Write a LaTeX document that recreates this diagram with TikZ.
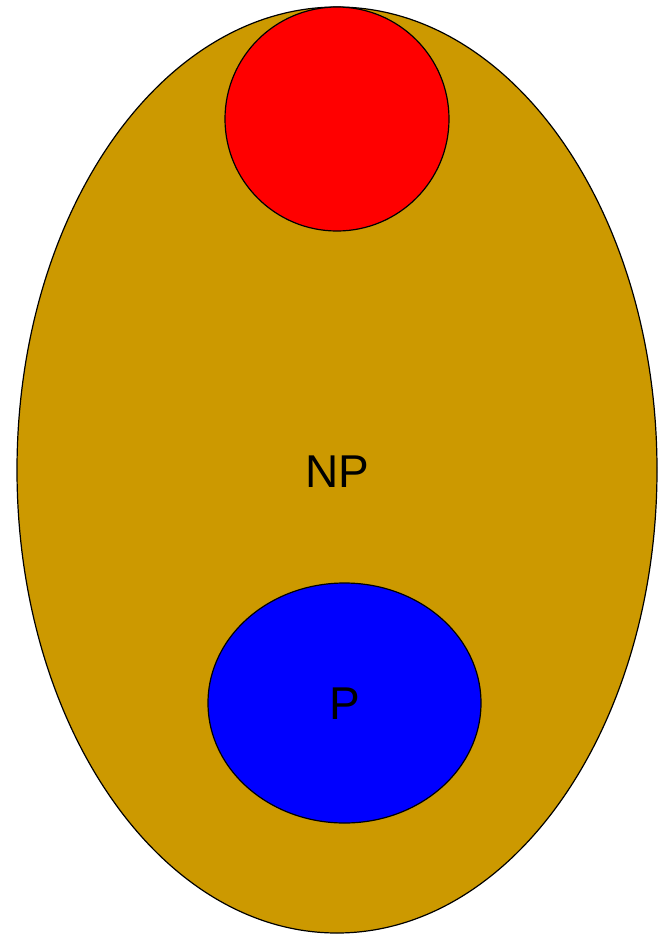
\documentclass[tikz,border=0pt]{standalone}
\usepackage{fontspec}
\setmainfont{Liberation Sans}
\definecolor{gold}{HTML}{CC9900}
\begin{document}
\begin{tikzpicture}[x=1pt,y=-1pt,
  shapeline/.style={draw=black,line width=1.2pt},
  lbl/.style={font=\fontsize{46}{50}\selectfont,text=black,inner sep=0pt}]
\useasboundingbox (0,0) rectangle (663,935);
\fill[gold,shapeline] (337,470) ellipse [x radius=320,y radius=463];
\fill[red,shapeline] (337,119) circle [radius=112];
\fill[blue,shapeline] (344.5,703) ellipse [x radius=136.5,y radius=120];
\node[lbl] (np) at (337,472) {NP};
\node[lbl] (p) at (344.5,704) {P};
\end{tikzpicture}
\end{document}
